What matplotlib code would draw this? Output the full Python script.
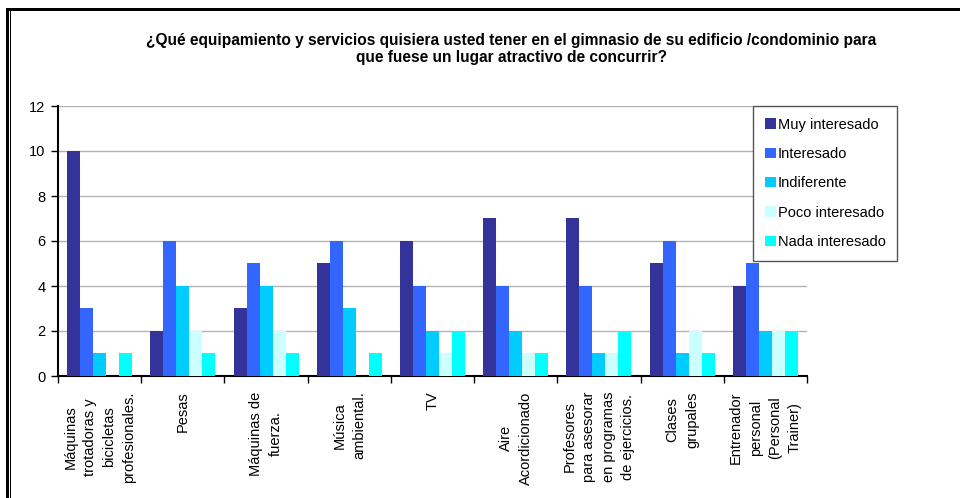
import matplotlib
matplotlib.use("Agg")
import matplotlib.pyplot as plt
import numpy as np
from matplotlib.patches import Rectangle

categories = [
    "Máquinas\ntrotadoras y\nbicicletas\nprofesionales.",
    "Pesas",
    "Máquinas de\nfuerza.",
    "Música\nambiental.",
    "TV",
    "Aire\nAcordicionado",
    "Profesores\npara asesorar\nen programas\nde ejercicios.",
    "Clases\ngrupales",
    "Entrenador\npersonal\n(Personal\nTrainer)",
]
series_names = ["Muy interesado", "Interesado", "Indiferente", "Poco interesado", "Nada interesado"]
muy_interesado = [10, 2, 3, 5, 6, 7, 7, 5, 4]
interesado = [3, 6, 5, 6, 4, 4, 4, 6, 5]
indiferente = [1, 4, 4, 3, 2, 2, 1, 1, 2]
poco_interesado = [0, 2, 2, 0, 1, 1, 1, 2, 2]
nada_interesado = [1, 1, 1, 1, 2, 1, 2, 1, 2]
yticks = [0, 2, 4, 6, 8, 10, 12]
title = ("¿Qué equipamiento y servicios quisiera usted tener en el gimnasio de su edificio /condominio para\n"
         "que fuese un lugar atractivo de concurrir?")

colors = ["#333399", "#3366FF", "#00CCFF", "#CCFFFF", "#00FFFF"]
values = [muy_interesado, interesado, indiferente, poco_interesado, nada_interesado]

W, H = 960, 498
fig = plt.figure(figsize=(W / 100, H / 100), dpi=100)
fig.patch.set_facecolor("white")

ax = fig.add_axes([58 / W, 1 - 376 / H, (807 - 58) / W, (376 - 106) / H])
x = np.arange(len(categories))
bw = 0.156
for i, (vals, c, name) in enumerate(zip(values, colors, series_names)):
    ax.bar(x + (i - 2) * bw, vals, width=bw, color=c, label=name, zorder=3)

ax.set_xlim(-0.5, len(categories) - 0.5)
ax.set_ylim(0, 12)
ax.set_yticks(yticks)
ax.set_yticklabels([str(v) for v in yticks], fontsize=10.5, family="Liberation Sans")
ax.yaxis.grid(True, color="#b3b3b3", linewidth=1, zorder=0)
ax.set_axisbelow(True)
for s in ["top", "right"]:
    ax.spines[s].set_visible(False)
for s in ["left", "bottom"]:
    ax.spines[s].set_color("black")
    ax.spines[s].set_linewidth(1.5)
ax.tick_params(axis="y", direction="out", length=5, width=1, pad=4, colors="black")

ax.set_xticks(x)
ax.set_xticklabels(categories, rotation=90, fontsize=10.5, family="Liberation Sans",
                   multialignment="center", linespacing=1.5)
ax.set_xticks(np.arange(-0.5, len(categories), 1.0), minor=True)
ax.tick_params(axis="x", which="major", length=0, pad=11)
ax.tick_params(axis="x", which="minor", length=5, width=1, direction="out", colors="black")

leg = ax.legend(loc="upper left", bbox_to_anchor=(753 / W, 1 - 106 / H),
                bbox_transform=fig.transFigure, fancybox=False, framealpha=1,
                edgecolor="#555555", prop={"family": "Liberation Sans", "size": 10.5},
                handlelength=0.75, handleheight=0.7, handletextpad=0.15,
                labelspacing=1.05, borderpad=0.8, borderaxespad=0)
leg.get_frame().set_linewidth(1.0)

fig.text(511 / W, 1 - 49 / H, title, ha="center", va="center", multialignment="center",
         fontsize=11.2, fontweight="bold", family="Liberation Sans", linespacing=1.1)

# decorative border
fig.patches.append(Rectangle((6 / W, 1 - 11 / H), 1 - 6 / W, 3 / H, transform=fig.transFigure,
                             facecolor="black", edgecolor="none"))
fig.patches.append(Rectangle((6 / W, 0), 3 / W, 1 - 8 / H, transform=fig.transFigure,
                             facecolor="black", edgecolor="none"))
fig.patches.append(Rectangle((10 / W, 0), 1.2 / W, 1 - 11 / H, transform=fig.transFigure,
                             facecolor="black", edgecolor="none"))

fig.savefig("out.png", dpi=100)
